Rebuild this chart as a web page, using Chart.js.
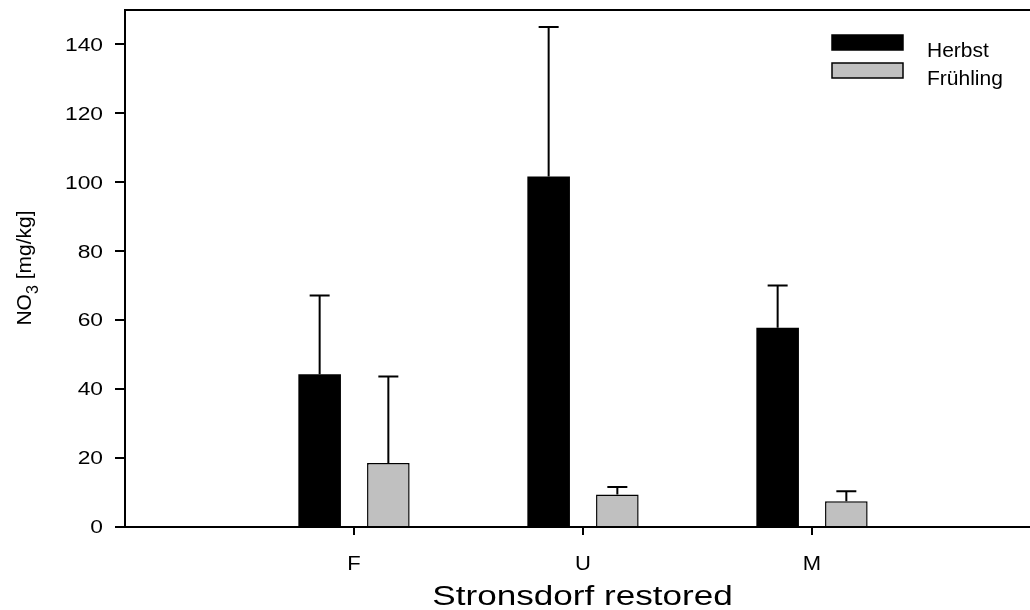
<!DOCTYPE html>
<html>
<head>
<meta charset="utf-8">
<script src="https://cdn.jsdelivr.net/npm/chart.js@4"></script>
<style>
  html, body { margin: 0; padding: 0; background: #fff; overflow: hidden; }
  canvas { display: block; }
</style>
</head>
<body>
<canvas id="no3Chart" width="1030" height="610"></canvas>
<script>
// NO3 content per site, autumn vs spring, mean + upper standard error
const categories = ['F', 'U', 'M'];
const seasons = ['Herbst', 'Frühling'];
const herbstMean = [44.3, 101.7, 57.8];
const herbstErr = [22.9, 43.4, 12.3];
const fruehlingMean = [18.6, 9.4, 7.5];
const fruehlingErr = [25.1, 2.2, 2.9];
const yTicks = [0, 20, 40, 60, 80, 100, 120, 140];

const FONT = '"Liberation Sans", Arial, sans-serif';

function wideText(ctx, text, x, y, size, sx, align, baseline) {
  ctx.save();
  ctx.font = `${size}px ${FONT}`;
  ctx.textAlign = align;
  ctx.textBaseline = baseline;
  ctx.fillStyle = '#000';
  ctx.translate(x, y);
  ctx.scale(sx, 1);
  ctx.fillText(text, 0, 0);
  ctx.restore();
}

// categories sit at x = 1, 2, 3 on a linear axis
const toPoints = (values) => values.map((v, i) => ({ x: i + 1, y: v }));

const errorBars = {
  id: 'errorBars',
  afterDatasetsDraw(chart) {
    const ctx = chart.ctx;
    const yScale = chart.scales.y;
    ctx.save();
    ctx.strokeStyle = '#000';
    ctx.lineWidth = 2;
    chart.data.datasets.forEach((ds, di) => {
      chart.getDatasetMeta(di).data.forEach((bar, i) => {
        const top = yScale.getPixelForValue(ds.data[i].y + ds.errors[i]);
        ctx.beginPath();
        ctx.moveTo(bar.x, bar.y);
        ctx.lineTo(bar.x, top);
        ctx.moveTo(bar.x - 10, top);
        ctx.lineTo(bar.x + 10, top);
        ctx.stroke();
      });
    });
    ctx.restore();
  },
};

const decorations = {
  id: 'decorations',
  afterDraw(chart) {
    const ctx = chart.ctx;
    const area = chart.chartArea;
    const xScale = chart.scales.x;
    const yScale = chart.scales.y;

    // top frame line
    ctx.save();
    ctx.strokeStyle = '#000';
    ctx.lineWidth = 2;
    ctx.beginPath();
    ctx.moveTo(area.left - 1, area.top);
    ctx.lineTo(area.right, area.top);
    ctx.stroke();
    ctx.restore();

    // tick labels
    yScale.ticks.forEach((t) => {
      wideText(ctx, String(t.value), 103, yScale.getPixelForValue(t.value) + 1, 19, 1.2, 'right', 'middle');
    });
    xScale.ticks.forEach((t) => {
      wideText(ctx, categories[t.value - 1], xScale.getPixelForValue(t.value), 570, 20, 1.1, 'center', 'alphabetic');
    });

    // x axis title
    wideText(ctx, 'Stronsdorf restored', (area.left + area.right) / 2 + 5, 605, 27, 1.3, 'center', 'alphabetic');

    // y axis title with subscript
    ctx.save();
    ctx.translate(31, 268);
    ctx.rotate(-Math.PI / 2);
    ctx.fillStyle = '#000';
    ctx.textBaseline = 'alphabetic';
    ctx.textAlign = 'left';
    const mainFont = `21px ${FONT}`;
    const subFont = `16px ${FONT}`;
    ctx.font = mainFont;
    const wNO = ctx.measureText('NO').width;
    const wRest = ctx.measureText(' [mg/kg]').width;
    ctx.font = subFont;
    const wSub = ctx.measureText('3').width;
    let x = -(wNO + wSub + wRest) / 2;
    ctx.font = mainFont;
    ctx.fillText('NO', x, 0);
    x += wNO;
    ctx.font = subFont;
    ctx.fillText('3', x, 7);
    x += wSub;
    ctx.font = mainFont;
    ctx.fillText(' [mg/kg]', x, 0);
    ctx.restore();

    // legend
    const swatches = [
      { fill: '#000000', top: 35 },
      { fill: '#c0c0c0', top: 63 },
    ];
    swatches.forEach((s, i) => {
      ctx.save();
      ctx.fillStyle = s.fill;
      ctx.fillRect(832, s.top, 71, 15);
      ctx.strokeStyle = '#000';
      ctx.lineWidth = 1.5;
      ctx.strokeRect(832, s.top, 71, 15);
      ctx.restore();
      wideText(ctx, seasons[i], 927, s.top + 22, 20, 1.05, 'left', 'alphabetic');
    });
  },
};

new Chart(document.getElementById('no3Chart'), {
  type: 'bar',
  data: {
    datasets: [
      {
        label: seasons[0],
        data: toPoints(herbstMean),
        errors: herbstErr,
        backgroundColor: '#000000',
        borderColor: '#000000',
        borderWidth: 0,
      },
      {
        label: seasons[1],
        data: toPoints(fruehlingMean),
        errors: fruehlingErr,
        backgroundColor: '#c0c0c0',
        borderColor: '#000000',
        borderWidth: 1.5,
      },
    ],
  },
  options: {
    responsive: false,
    animation: false,
    devicePixelRatio: 1,
    categoryPercentage: 0.6,
    barPercentage: 0.62,
    layout: { padding: { top: 10, right: 0, left: 0, bottom: 0 } },
    scales: {
      x: {
        type: 'linear',
        min: 0,
        max: 3.952,
        offset: false,
        afterBuildTicks: (scale) => {
          scale.ticks = categories.map((c, i) => ({ value: i + 1 }));
        },
        afterFit: (scale) => { scale.height = 83; },
        ticks: { display: false },
        grid: { display: true, offset: false, drawOnChartArea: false, drawTicks: true, tickLength: 8, color: '#000', lineWidth: 2 },
        border: { display: true, color: '#000', width: 2 },
      },
      y: {
        type: 'linear',
        min: 0,
        max: 150,
        afterBuildTicks: (scale) => {
          scale.ticks = yTicks.map((v) => ({ value: v }));
        },
        afterFit: (scale) => { scale.width = 125; },
        ticks: { display: false },
        grid: { display: true, drawOnChartArea: false, drawTicks: true, tickLength: 10, color: '#000', lineWidth: 2 },
        border: { display: true, color: '#000', width: 2 },
      },
    },
    plugins: {
      legend: { display: false },
      tooltip: { enabled: false },
    },
  },
  plugins: [errorBars, decorations],
});
</script>
</body>
</html>
